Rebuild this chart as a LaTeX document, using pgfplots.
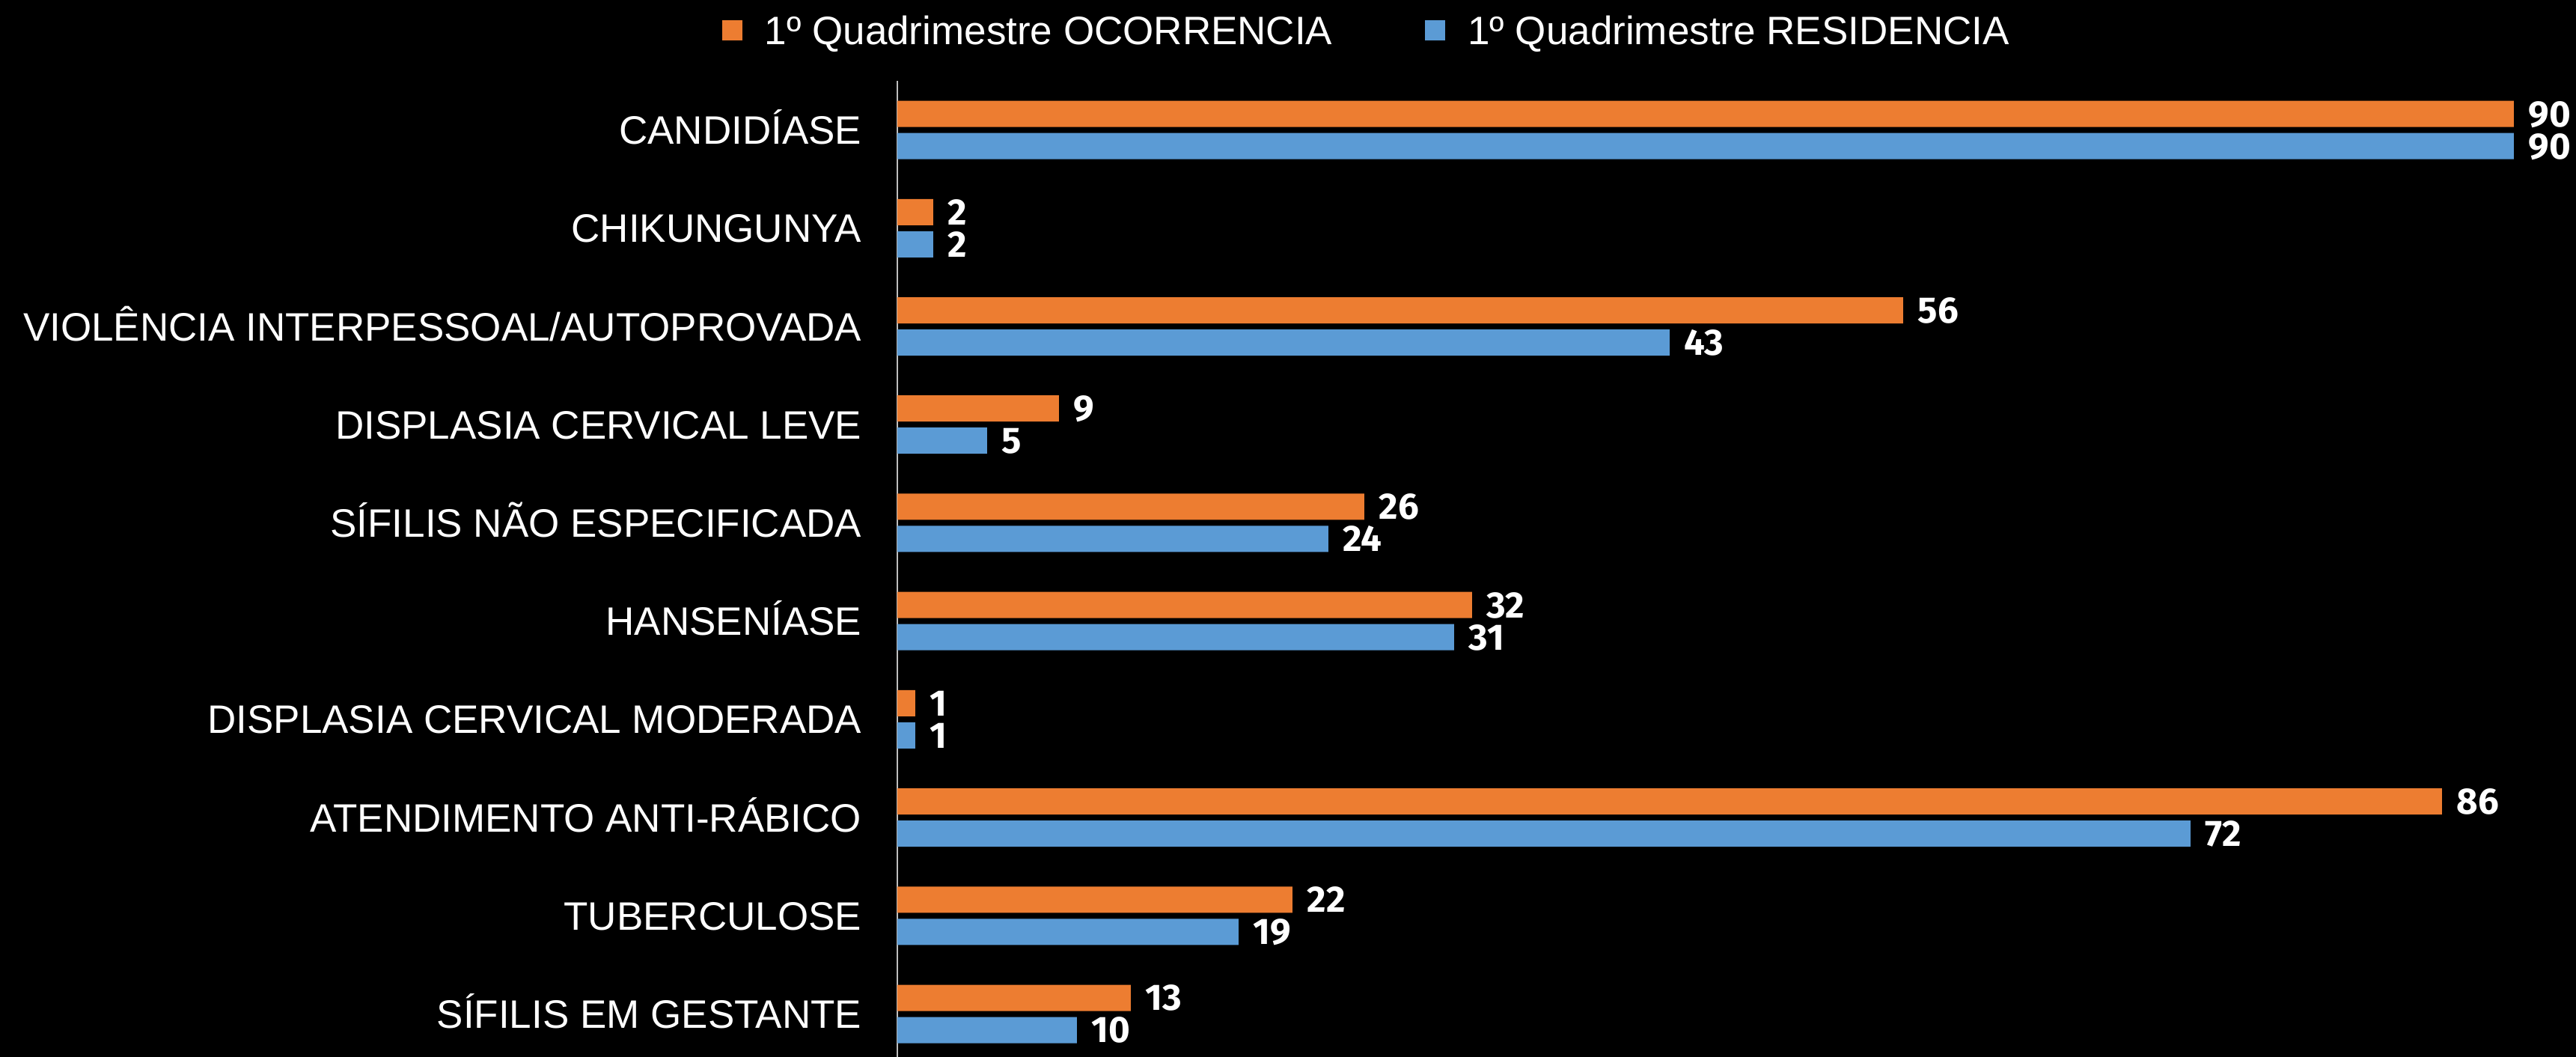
\documentclass[border=0pt]{standalone}
\usepackage{pgfplots}
\pgfplotsset{compat=1.18}
\usepackage{pgfplotstable}
\usepackage{fontspec}
\setmainfont{Liberation Sans}
\newfontfamily\valfont{Fira Sans}
\definecolor{ocor}{HTML}{ED7D31}
\definecolor{resi}{HTML}{5B9BD5}
\pgfplotstableread{
y ocor resi
9 90 90
8 2 2
7 56 43
6 9 5
5 26 24
4 32 31
3 1 1
2 86 72
1 22 19
0 13 10
}\data
\begin{document}
\begin{tikzpicture}
\fill[black] (0,0) rectangle (860.5pt,353pt);
\begin{axis}[
 at={(299.75pt,0pt)}, anchor=south west,
 scale only axis, width=560.75pt, height=326pt,
 xmin=0, xmax=93.46, ymin=-0.438, ymax=9.5,
 xbar=2pt, bar width=8.75pt,
 axis x line=none, axis y line*=left,
 y axis line style={draw=white!75!black, line width=0.4pt},
 ytick={0,...,9},
 yticklabels={SÍFILIS EM GESTANTE, TUBERCULOSE, ATENDIMENTO ANTI-RÁBICO, DISPLASIA CERVICAL MODERADA, HANSENÍASE, SÍFILIS NÃO ESPECIFICADA, DISPLASIA CERVICAL LEVE, VIOLÊNCIA INTERPESSOAL/AUTOPROVADA, CHIKUNGUNYA, CANDIDÍASE},
 major tick length=0pt,
 yticklabel style={font=\fontsize{13.25pt}{15pt}\selectfont, text=white, anchor=east, inner sep=0pt, text height=9.5pt, text depth=0pt, xshift=-11.75pt},
 /pgf/number format/assume math mode=true,
 point meta=x,
 nodes near coords,
 nodes near coords style={font=\valfont\bfseries\fontsize{12.3pt}{14pt}\selectfont, text=white, anchor=west, inner sep=0pt, text height=8.47pt, text depth=0pt, xshift=4.75pt},
 legend columns=2,
 reverse legend,
 legend style={at={(0.279,1.052)}, anchor=center, draw=none, fill=none, text=white,
   font=\fontsize{13.25pt}{15pt}\selectfont,
   /tikz/every even column/.append style={column sep=31pt},
   nodes={inner sep=0pt, text height=9.5pt, text depth=0pt}},
 legend image code/.code={\fill[#1] (0pt,-3.4pt) rectangle (6.75pt,3.4pt); \path (14.25pt,0pt);},
]
\addplot[fill=resi, draw=none] table[x=resi, y=y] {\data};
\addplot[fill=ocor, draw=none] table[x=ocor, y=y] {\data};
\legend{1º Quadrimestre RESIDENCIA, 1º Quadrimestre OCORRENCIA}
\end{axis}
\pgfresetboundingbox
\useasboundingbox (0,0) rectangle (860.5pt,353pt);
\end{tikzpicture}
\end{document}
